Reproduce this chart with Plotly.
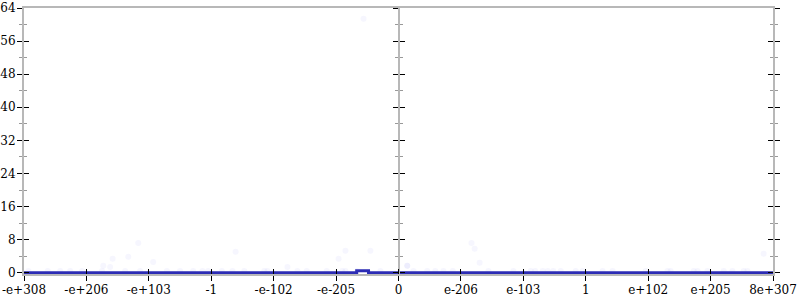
import plotly.graph_objects as go

# x axis is in "ordered float index" units: -6 .. 6
tick_vals = [-6, -5, -4, -3, -2, -1, 0, 1, 2, 3, 4, 5, 6]
tick_text = ["-e+308", "-e+206", "-e+103", "-1", "-e-102", "-e-205", "0",
             "e-206", "e-103", "1", "e+102", "e+205", "8e+307"]

# histogram outline (step)
line_x = [-6.0, -0.67, -0.48, 6.0]
line_y = [0.0, 0.5, 0.0, 0.0]

# faint sample points
dots_x = [-4.17, -4.33, -4.58, -4.73, -4.62, -3.93,
          -5.93, -5.62, -5.42, -5.26, -5.07, -4.75, -4.38, -4.14, -3.71, -3.5, -3.29, -3.14, -3.05,
          -2.61, -0.85, -0.45, -0.96, -1.78, 0.14, -0.56,
          -2.83, -2.66, -2.47, -2.15, -2.1, -1.62, -1.47, -1.15, -0.9, -0.85, -0.66, -0.29,
          1.17, 1.22, 1.3, 0.14,
          0.24, 0.46, 0.59, 0.72, 0.87, 1.44, 1.84, 2.12, 2.19, 2.31, 2.39, 2.48, 2.6, 2.84, 2.95,
          5.85,
          3.27, 3.43, 3.96, 4.31, 4.36, 4.73, 4.79, 4.95, 5.21, 5.35, 5.53, 5.59]
dots_y = [7.2, 3.85, 3.4, 1.7, 1.4, 2.6,
          0.4, 0.4, 0.4, 0.4, 0.4, 0.4, 0.4, 0.4, 0.4, 0.4, 0.4, 0.4, 0.4,
          5.05, 5.3, 5.3, 3.4, 1.4, 1.7, 61.4,
          0.4, 0.4, 0.4, 0.4, 0.4, 0.4, 0.4, 0.4, 0.4, 0.4, 0.4, 0.4,
          7.2, 5.8, 2.4, 1.7,
          0.4, 0.4, 0.4, 0.4, 0.4, 0.4, 0.4, 0.4, 0.4, 0.4, 0.4, 0.4, 0.4, 0.4, 0.4,
          4.6,
          0.4, 0.4, 0.4, 0.4, 0.4, 0.4, 0.4, 0.4, 0.4, 0.4, 0.4, 0.4]

y_range = [-0.3, 64]
x_range = [-6, 6]

fig = go.Figure()
fig.add_trace(go.Scatter(x=dots_x, y=dots_y, mode="markers",
                         marker=dict(size=6, color="rgba(70,70,230,0.05)", line=dict(width=0)),
                         hoverinfo="skip", showlegend=False, cliponaxis=False))
fig.add_trace(go.Scatter(x=line_x, y=line_y, mode="lines", line=dict(color="#2c2cb4", width=3, shape="hv"),
                         showlegend=False, cliponaxis=False))

font = dict(family="'DejaVu Serif', serif", size=12, color="black")
grey = "#b8b8b8"

common_y = dict(range=y_range, dtick=8, tick0=0, showgrid=False, zeroline=False, ticklen=5,
                tickcolor="black", tickwidth=1, automargin=False,
                minor=dict(dtick=4, ticklen=3, tickcolor="#999", tickwidth=1))

fig.update_layout(
    width=800, height=300,
    margin=dict(l=24, r=27, t=8, b=26, autoexpand=False),
    paper_bgcolor="white", plot_bgcolor="white",
    font=font, showlegend=False,
    xaxis=dict(range=x_range, tickvals=tick_vals, ticktext=tick_text, ticks="outside", ticklen=5,
               tickcolor="black", showgrid=False, zeroline=False, showline=True, linecolor=grey,
               linewidth=2, mirror=True, tickfont=font, automargin=False, ticklabelstandoff=-1),
    xaxis2=dict(range=x_range, tickvals=tick_vals, ticks="inside", ticklen=5, tickcolor="black",
                showticklabels=False, showgrid=False, zeroline=False, overlaying="x", anchor="y",
                side="bottom", automargin=False),
    yaxis=dict(**common_y, ticks="outside", showline=True, linecolor=grey, linewidth=2, tickfont=font,
               minor_ticks="outside", ticklabelstandoff=-1),
    yaxis2=dict(**common_y, ticks="inside", showticklabels=False, overlaying="y", side="left", anchor="x",
                minor_ticks="inside"),
    yaxis3=dict(**common_y, ticks="outside", showticklabels=False, overlaying="y", side="left",
                anchor="free", position=0.5, showline=True, linecolor=grey, linewidth=2, minor_ticks="outside"),
    yaxis4=dict(**common_y, ticks="inside", showticklabels=False, overlaying="y", side="left",
                anchor="free", position=0.5, minor_ticks="inside"),
    yaxis5=dict(**common_y, ticks="outside", showticklabels=False, overlaying="y", side="right",
                anchor="x", showline=True, linecolor=grey, linewidth=2, minor_ticks="outside"),
    yaxis6=dict(**common_y, ticks="inside", showticklabels=False, overlaying="y", side="right",
                anchor="x", minor_ticks="inside"),
)

# invisible helper traces so every overlaid axis is drawn
for xa, ya in [("x2", "y"), ("x", "y2"), ("x", "y3"), ("x", "y4"), ("x", "y5"), ("x", "y6")]:
    fig.add_trace(go.Scatter(x=[None], y=[None], xaxis=xa, yaxis=ya, showlegend=False, hoverinfo="skip"))

fig.write_html("out.html")
